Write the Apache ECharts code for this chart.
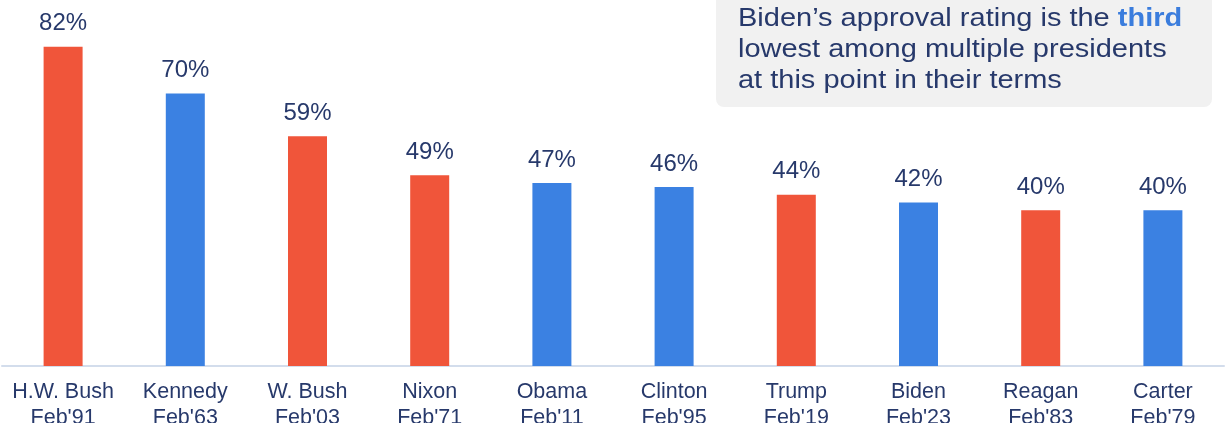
<!DOCTYPE html>
<html>
<head>
<meta charset="utf-8">
<script src="https://cdn.jsdelivr.net/npm/echarts@6/dist/echarts.min.js"></script>
<style>
  html, body { margin: 0; padding: 0; background: #fff; }
  #chart { width: 1226px; height: 423px; }
</style>
</head>
<body>
<div id="chart"></div>
<script>
// approval at this point in term
const presidents = ['H.W. Bush', 'Kennedy', 'W. Bush', 'Nixon', 'Obama', 'Clinton', 'Trump', 'Biden', 'Reagan', 'Carter'];
const terms = ["Feb'91", "Feb'63", "Feb'03", "Feb'71", "Feb'11", "Feb'95", "Feb'19", "Feb'23", "Feb'83", "Feb'79"];
const approval = [82, 70, 59, 49, 47, 46, 44, 42, 40, 40];
const party = ['R', 'D', 'R', 'R', 'D', 'D', 'R', 'D', 'R', 'D'];

const partyColor = { R: '#f0553a', D: '#3b81e2' };
const navy = '#27396b';
const font = 'Liberation Sans, Arial, sans-serif';

const categories = presidents.map((p, i) => p + '\n' + terms[i]);

const chart = echarts.init(document.getElementById('chart'));
chart.setOption({
    animation: false,
    graphic: [{
        type: 'rect',
        z: 1,
        shape: { x: 716, y: -12, width: 496, height: 119, r: 8 },
        style: { fill: '#f1f1f1' }
    }, {
        // callout text, a bit wider than Arial in the original
        type: 'text',
        z: 2,
        x: 738,
        y: 3,
        scaleX: 1.115,
        style: {
            text: '{a|Biden’s approval rating is the }{b|third}\n{a|lowest among multiple presidents}\n{a|at this point in their terms}',
            rich: {
                a: { fontFamily: font, fontSize: 26, fontWeight: 'normal', lineHeight: 31, fill: navy },
                b: { fontFamily: font, fontSize: 26, fontWeight: 'bold', lineHeight: 31, fill: '#3b7ddd' }
            }
        }
    }],
    grid: { left: 2, right: 2, top: 0, bottom: 57, outerBoundsMode: 'none' },
    xAxis: {
        type: 'category',
        data: categories,
        axisTick: { show: false },
        axisLine: { lineStyle: { color: '#d3ddec', width: 2 } },
        axisLabel: {
            interval: 0,
            margin: 13,
            color: navy,
            fontFamily: font,
            fontSize: 21.5,
            lineHeight: 26
        }
    },
    yAxis: {
        type: 'value',
        min: 0,
        max: 94,
        show: false,
        splitLine: { show: false }
    },
    series: [{
        type: 'bar',
        barWidth: 39,
        data: approval.map((v, i) => ({ value: v, itemStyle: { color: partyColor[party[i]] } })),
        label: {
            show: true,
            position: 'top',
            distance: 11,
            formatter: '{c}%',
            color: navy,
            fontFamily: font,
            fontSize: 24
        }
    }]
});
</script>
</body>
</html>
